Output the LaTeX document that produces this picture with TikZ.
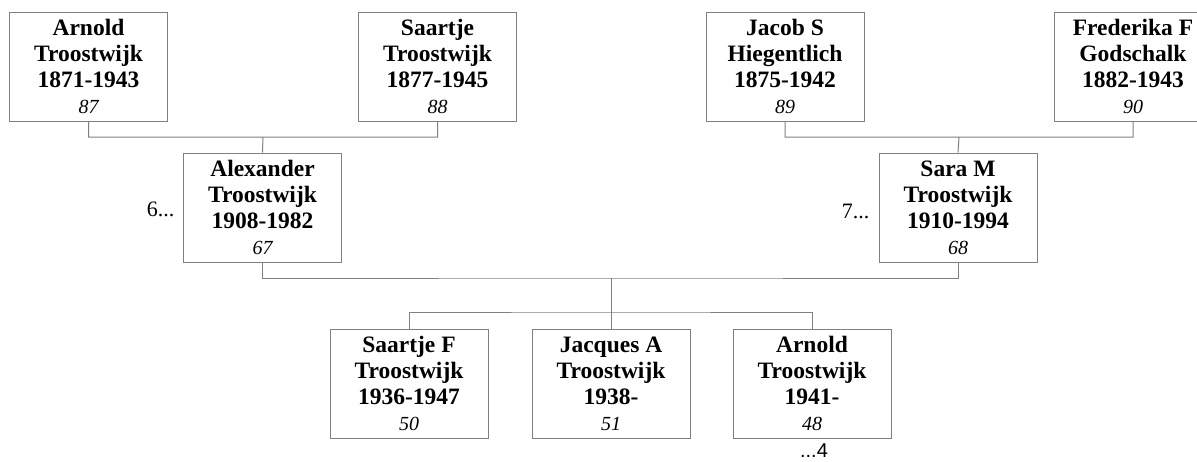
\documentclass[tikz,border=0pt]{standalone}
\usepackage{fontspec}
\setmainfont{Liberation Serif}
\newfontfamily\arialfont{Liberation Sans}
\usepackage{xcolor}
\usepackage{tikz}
\usetikzlibrary{calc}
\tikzset{person/.style={draw=gray,line width=1pt,minimum width=158pt,minimum height=109pt,inner sep=0pt,align=center,font=\fontsize{23.5}{26}\selectfont\bfseries,execute at begin node=\rule{0pt}{21pt}}}
\newcommand{\nummer}[1]{{\normalfont\itshape\fontsize{20}{26}\selectfont #1}}

\begin{document}
\begin{tikzpicture}[x=1pt,y=-1pt]
	\useasboundingbox (0,0) rectangle (1197,461);
	\node[person] (arnold) at (88.5,66.5) {Arnold\\Troostwijk\\1871-1943\\\nummer{87}};
	\node[person] (saartje) at (437.5,66.5) {Saartje\\Troostwijk\\1877-1945\\\nummer{88}};
	\node[person] (jacob) at (785,66.5) {Jacob S\\Hiegentlich\\1875-1942\\\nummer{89}};
	\node[person] (frederika) at (1133,66.5) {Frederika F\\Godschalk\\1882-1943\\\nummer{90}};
	\node[person] (alexander) at (262.5,207.5) {Alexander\\Troostwijk\\1908-1982\\\nummer{67}};
	\node[person] (sara) at (958,207.5) {Sara M\\Troostwijk\\1910-1994\\\nummer{68}};
	\node[person] (saartjef) at (409,383.5) {Saartje F\\Troostwijk\\1936-1947\\\nummer{50}};
	\node[person] (jacques) at (611,383.5) {Jacques A\\Troostwijk\\1938-\\\nummer{51}};
	\node[person] (arnoldjr) at (812,383.5) {Arnold\\Troostwijk\\1941-\\\nummer{48}};
	\node[anchor=east,font=\fontsize{22}{26}\selectfont] (meer6) at (178,209) {6...};
	\node[anchor=east,font=\fontsize{22}{26}\selectfont] (meer7) at (873,211) {7...};
	\node[font=\arialfont\fontsize{20}{24}\selectfont] (meer4) at (814,451) {...4};
	\coordinate (ouders1) at (263,137);
	\coordinate (ouders2) at (959,137);
	\coordinate (gezin) at (611,278);
	\coordinate (kinderen) at (611,312);
	\draw[gray,line width=1pt] (arnold.south) |- (ouders1) -| (saartje.south) (ouders1)--(alexander.north);
	\draw[gray,line width=1pt] (jacob.south) |- (ouders2) -| (frederika.south) (ouders2)--(sara.north);
	\draw[gray,line width=1pt] (alexander.south) |- (gezin) -| (sara.south) (gezin)--(jacques.north);
	\draw[gray,line width=1pt] (saartjef.north) |- (kinderen) -| (arnoldjr.north);
\end{tikzpicture}
\end{document}
